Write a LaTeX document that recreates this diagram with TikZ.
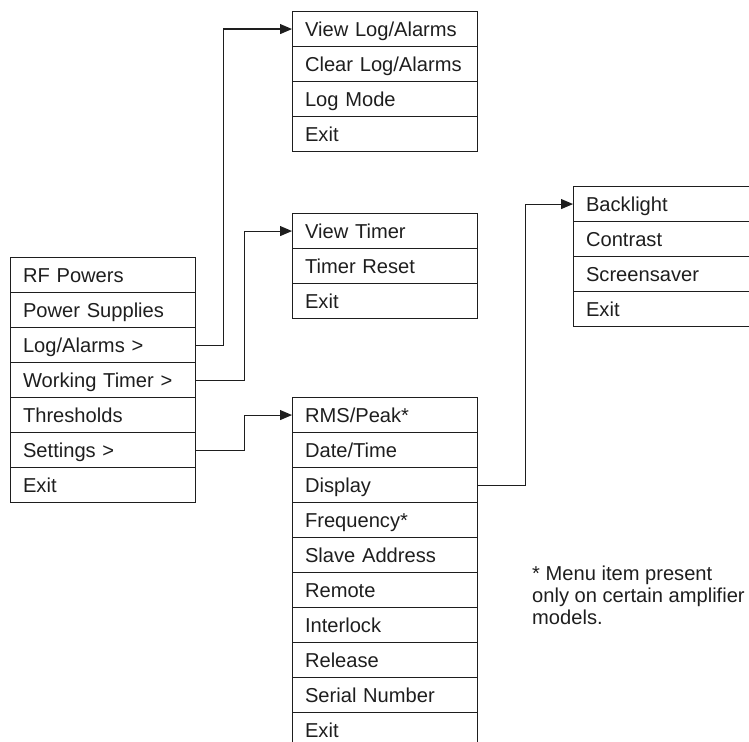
\documentclass[tikz,border=0pt]{standalone}
\usepackage{fontspec}
\setmainfont{Liberation Sans}
\usetikzlibrary{arrows.meta}
\definecolor{ink}{HTML}{1E1E1E}
\tikzset{
  item/.style={draw=ink, line width=1.1bp, text=ink, anchor=north west,
    inner xsep=12.5bp, inner ysep=0pt, text width=160bp, align=left,
    minimum height=35bp, text height=14.3bp, text depth=0pt,
    font=\fontsize{20.2}{24}\selectfont},
  conn/.style={draw=ink, line width=1.1bp, -{Triangle[length=12bp,width=10bp]}},
  note/.style={anchor=north west, inner sep=0pt, align=left, text=ink,
    font=\fontsize{20.2}{22}\selectfont}
}
\newcommand{\menubox}[4]{% prefix, x, y, list
  \foreach \t [count=\i from 0] in {#4} {
    \pgfmathtruncatemacro{\k}{\i+1}
    \node[item] (#1\k) at (#2, #3+35*\i) {\t};
  }
}
\begin{document}
\begin{tikzpicture}[x=1bp, y=-1bp]
\useasboundingbox (0,0) rectangle (749,742);
\clip (0,0) rectangle (749,742);
\menubox{m}{10}{257}{RF Powers, Power Supplies, Log/Alarms >, Working Timer >, Thresholds, Settings >, Exit}
\menubox{l}{292}{11}{View Log/Alarms, Clear Log/Alarms, Log Mode, Exit}
\menubox{t}{292}{213}{View Timer, Timer Reset, Exit}
\menubox{s}{292}{397}{RMS/Peak*, Date/Time, Display, Frequency*, Slave Address, Remote, Interlock, Release, Serial Number, Exit}
\menubox{d}{573}{186}{Backlight, Contrast, Screensaver, Exit}
\draw[conn] (m3.east) -- ++(27,0) |- (l1.west);
\draw[conn] (m4.east) -- ++(48,0) |- (t1.west);
\draw[conn] (m6.east) -- ++(48,0) |- (s1.west);
\draw[conn] (s3.east) -- ++(47,0) |- (d1.west);
\node[note] (nt) at (532,566) {* Menu item present\\only on certain amplifier\\models.};
\end{tikzpicture}
\end{document}
